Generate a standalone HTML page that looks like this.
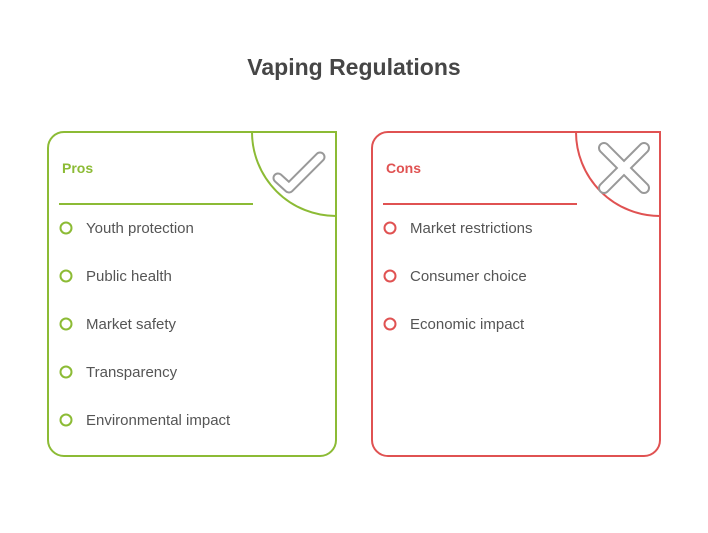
<!DOCTYPE html>
<html><head><style>
body{margin:0;width:708px;height:528px;background:#fff;overflow:hidden}
svg text{font-family:"Liberation Sans",sans-serif}
</style></head><body>
<svg width="708" height="528" viewBox="0 0 708 528" xmlns="http://www.w3.org/2000/svg">
<text x="354" y="75" text-anchor="middle" font-size="23" font-weight="bold" fill="#464646">Vaping Regulations</text>
<!-- Pros card -->
<path d="M64 132 H336 V440 A16 16 0 0 1 320 456 H64 A16 16 0 0 1 48 440 V148 A16 16 0 0 1 64 132 Z" fill="none" stroke="#8cbb35" stroke-width="2"/>
<path d="M252 132 A84 84 0 0 0 336 216" fill="none" stroke="#8cbb35" stroke-width="2"/>
<path d="M278 178 L289 188 L320 157" fill="none" stroke="#999" stroke-width="11" stroke-linejoin="round" stroke-linecap="round"/>
<path d="M278 178 L289 188 L320 157" fill="none" stroke="#fff" stroke-width="7" stroke-linejoin="round" stroke-linecap="round"/>
<text x="62" y="173" font-size="14" font-weight="bold" fill="#8cbb35">Pros</text>
<line x1="59" y1="204" x2="253" y2="204" stroke="#8cbb35" stroke-width="2"/>
<g fill="none" stroke="#8cbb35" stroke-width="2">
<circle cx="66" cy="228" r="5.5"/><circle cx="66" cy="276" r="5.5"/><circle cx="66" cy="324" r="5.5"/><circle cx="66" cy="372" r="5.5"/><circle cx="66" cy="420" r="5.5"/>
</g>
<g font-size="15" fill="#555">
<text x="86" y="233">Youth protection</text>
<text x="86" y="281">Public health</text>
<text x="86" y="329">Market safety</text>
<text x="86" y="377">Transparency</text>
<text x="86" y="425">Environmental impact</text>
</g>
<!-- Cons card -->
<path d="M388 132 H660 V440 A16 16 0 0 1 644 456 H388 A16 16 0 0 1 372 440 V148 A16 16 0 0 1 388 132 Z" fill="none" stroke="#e05252" stroke-width="2"/>
<path d="M576 132 A84 84 0 0 0 660 216" fill="none" stroke="#e05252" stroke-width="2"/>
<path d="M604 148 L644 188 M644 148 L604 188" fill="none" stroke="#999" stroke-width="12" stroke-linecap="round"/>
<path d="M604 148 L644 188 M644 148 L604 188" fill="none" stroke="#fff" stroke-width="8" stroke-linecap="round"/>
<text x="386" y="173" font-size="14" font-weight="bold" fill="#e05252">Cons</text>
<line x1="383" y1="204" x2="577" y2="204" stroke="#e05252" stroke-width="2"/>
<g fill="none" stroke="#e05252" stroke-width="2">
<circle cx="390" cy="228" r="5.5"/><circle cx="390" cy="276" r="5.5"/><circle cx="390" cy="324" r="5.5"/>
</g>
<g font-size="15" fill="#555">
<text x="410" y="233">Market restrictions</text>
<text x="410" y="281">Consumer choice</text>
<text x="410" y="329">Economic impact</text>
</g>
</svg>
</body></html>
